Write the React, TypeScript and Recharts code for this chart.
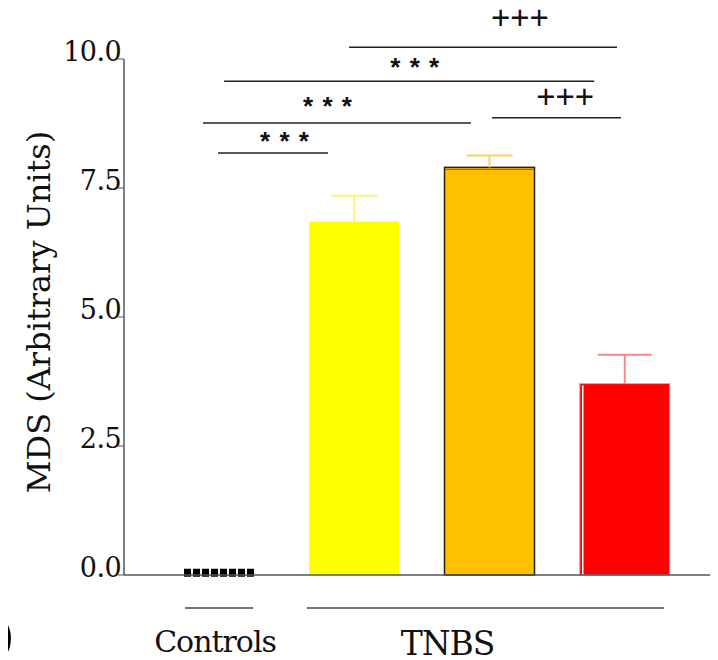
import React from "react";
import {
  BarChart, Bar, XAxis, YAxis, Cell, ReferenceLine, ReferenceDot,
} from "recharts";

// bars (one control group, three TNBS groups)
const groups = ["Controls", "TNBS A", "TNBS B", "TNBS C"];
const mds = [0.05, 6.85, 7.9, 3.71];
const semUp = [0, 0.5, 0.23, 0.56];
const barColors = ["#000000", "#ffff00", "#ffc000", "#ff0000"];
const errColors = ["#000000", "#fff27a", "#ffd05e", "#ff8585"];
const errCaps = [0, 46, 46, 54];
const yTicks = [0, 2.5, 5, 7.5, 10];

// significance brackets, x in group-index units, y in MDS units
const bracketLines = [
  { x1: 0.965, x2: 2.948, y: 10.23 },
  { x1: 0.04, x2: 2.78, y: 9.57 },
  { x1: -0.116, x2: 1.867, y: 8.76 },
  { x1: 2.023, x2: 2.978, y: 8.86 },
  { x1: -0.005, x2: 0.809, y: 8.18 },
];
const bracketMarks = [
  { x: 2.23, y: 10.58, text: "+++" },
  { x: 1.455, y: 9.67, text: "* * *" },
  { x: 0.809, y: 8.91, text: "* * *" },
  { x: 2.564, y: 9.05, text: "+++" },
  { x: 0.491, y: 8.24, text: "* * *" },
];

// group underlines and names below the axis
const groupLines = [
  { x1: -0.249, x2: 0.254, y: -0.64 },
  { x1: 0.654, x2: 3.296, y: -0.64 },
];
const groupLabels = [
  { x: -0.027, y: -1.49, text: "Controls" },
  { x: 1.694, y: -1.56, text: "TNBS" },
];

const data = groups.map((name, i) => ({ name, idx: i, mds: mds[i], sem: semUp[i] }));

const serif = "DejaVu Serif, serif";
const sans = "Liberation Sans, Arial, DejaVu Sans, sans-serif";

function BarShape(props: any) {
  const { x, y, width, height, fill, payload } = props;
  const i = payload.idx;
  if (i === 0) {
    const w = 70;
    const cy = y + height / 2 - 1;
    return (
      <line x1={x + (width - w) / 2} x2={x + (width + w) / 2} y1={cy} y2={cy}
        stroke="#000" strokeWidth={8} strokeDasharray="7 2" />
    );
  }
  // upward whisker, scaled from the bar's own height
  const pxPerUnit = height / payload.mds;
  const top = y - payload.sem * pxPerUnit;
  const cx = x + width / 2;
  const whisker = (
    <g stroke={errColors[i]} strokeWidth={2}>
      <line x1={cx} x2={cx} y1={y} y2={top} />
      <line x1={cx - errCaps[i] / 2} x2={cx + errCaps[i] / 2} y1={top} y2={top} />
    </g>
  );
  if (i === 2) {
    return (
      <g>
        <rect x={x} y={y} width={width} height={height} fill={fill} stroke="#2b2200" strokeWidth={1.5} />
        <line x1={x + 1} x2={x + width - 1} y1={y + 2} y2={y + 2} stroke="#e03000" strokeWidth={1} />
        {whisker}
      </g>
    );
  }
  if (i === 3) {
    return (
      <g>
        <rect x={x} y={y} width={width} height={height} fill={fill} stroke="#ff9a9a" strokeWidth={1} />
        <line x1={x + 3} x2={x + 3} y1={y + 2} y2={y + height} stroke="#fff" strokeWidth={1.5} />
        {whisker}
      </g>
    );
  }
  return (
    <g>
      <rect x={x} y={y} width={width} height={height} fill={fill} />
      {whisker}
    </g>
  );
}

function YTick(props: any) {
  const { x, y, payload } = props;
  return (
    <text x={x + 5} y={y + 2} textAnchor="end" fontFamily={serif} fontSize={27}
      letterSpacing={-0.6} fill="#111">
      {payload.value.toFixed(1)}
    </text>
  );
}

export default function App() {
  return (
    <div style={{ marginLeft: -8, marginTop: -8, width: 718, height: 660 }}>
      <BarChart width={718} height={660} data={data}
        margin={{ top: 59, right: 0, bottom: 0, left: 0 }}>
        <XAxis dataKey="name" tick={false} tickLine={false} height={85}
          axisLine={{ stroke: "#555", strokeWidth: 1.5 }} padding={{ left: 27, right: 26 }} />
        <XAxis xAxisId="ann" dataKey="idx" type="number" domain={[-0.701, 3.696]} allowDataOverflow hide />
        <YAxis domain={[0, 10]} ticks={yTicks} width={124} tickSize={6} interval={0}
          axisLine={{ stroke: "#555", strokeWidth: 1.5 }} tickLine={{ stroke: "#555" }}
          tick={<YTick />}
          label={{
            content: (p: any) => {
              const vb = p.viewBox;
              const cx = vb.x + 50;
              const cy = vb.y + vb.height / 2 - 5;
              return (
                <text transform={`translate(${cx},${cy}) rotate(-90)`} textAnchor="middle"
                  fontFamily={serif} fontSize={32} fill="#111">
                  MDS (Arbitrary Units)
                </text>
              );
            },
          }} />
        <Bar dataKey="mds" barSize={90} isAnimationActive={false} shape={<BarShape />}>
          {data.map((d, i) => <Cell key={d.name} fill={barColors[i]} />)}
        </Bar>
        {bracketLines.map((l, i) => (
          <ReferenceLine key={`b${i}`} xAxisId="ann" ifOverflow="visible"
            segment={[{ x: l.x1, y: l.y }, { x: l.x2, y: l.y }]} stroke="#222" strokeWidth={1.5} />
        ))}
        {bracketMarks.map((m, i) => (
          <ReferenceDot key={`m${i}`} xAxisId="ann" x={m.x} y={m.y} r={0} ifOverflow="visible"
            shape={(p: any) => (
              <text x={p.cx} y={p.cy} textAnchor="middle" fill="#111" fontFamily={sans}
                fontSize={m.text === "+++" ? 33 : 26} fontWeight={m.text === "+++" ? 300 : 700}
                letterSpacing={m.text === "+++" ? 0 : 1}>
                {m.text}
              </text>
            )} />
        ))}
        {groupLines.map((l, i) => (
          <ReferenceLine key={`g${i}`} xAxisId="ann" ifOverflow="visible"
            segment={[{ x: l.x1, y: l.y }, { x: l.x2, y: l.y }]} stroke="#444" strokeWidth={1.5} />
        ))}
        {groupLabels.map((g, i) => (
          <ReferenceDot key={`l${i}`} xAxisId="ann" x={g.x} y={g.y} r={0} ifOverflow="visible"
            shape={(p: any) => (
              <text x={p.cx} y={p.cy} textAnchor="middle" fill="#111" fontFamily={serif}
                fontSize={g.text === "TNBS" ? 33 : 30} letterSpacing={-1}>
                {g.text}
              </text>
            )} />
        ))}
        <text x={-11} y={656} fill="#000" fontFamily={serif} fontSize={58} fontWeight={700}>)</text>
      </BarChart>
    </div>
  );
}
